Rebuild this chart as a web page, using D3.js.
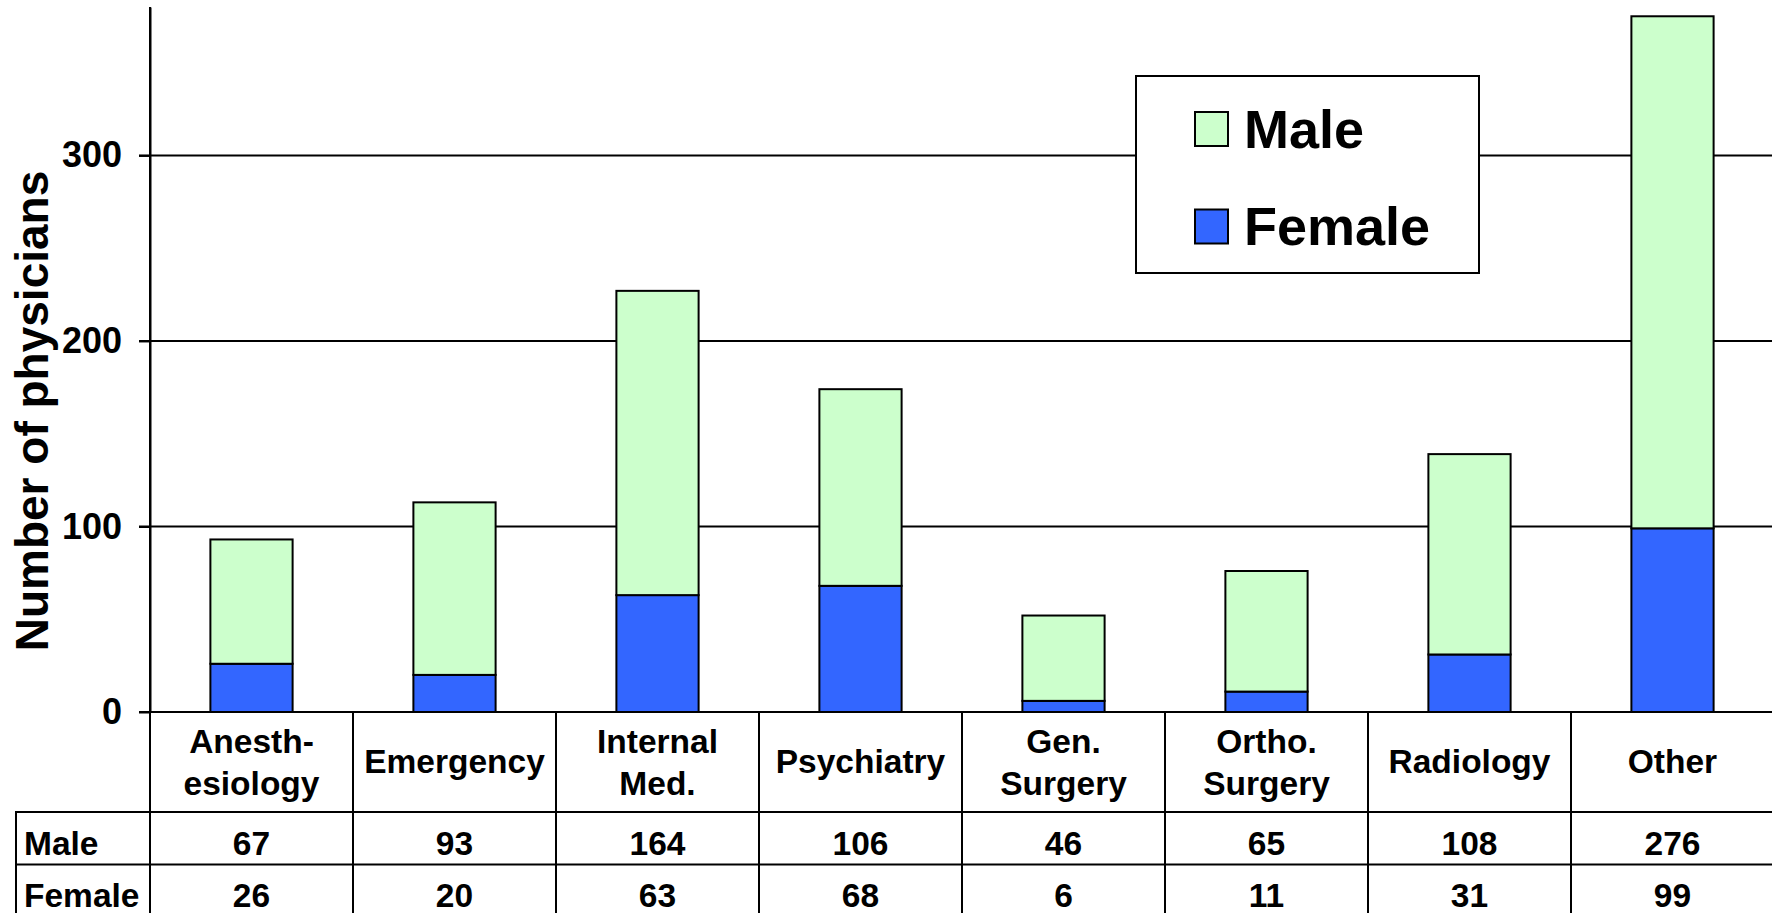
<!DOCTYPE html>
<html><head><meta charset="utf-8">
<script src="https://cdn.jsdelivr.net/npm/d3@7"></script>
<style>
body{margin:0;background:#fff;}
svg{display:block;font-family:"Liberation Sans",Arial,Helvetica,sans-serif;font-weight:bold;}
</style>
</head><body>
<svg id="c" width="1772" height="913"></svg>
<script>
// ---- data ----
const categories = ["Anesth-\nesiology","Emergency","Internal\nMed.","Psychiatry","Gen.\nSurgery","Ortho.\nSurgery","Radiology","Other"];
const seriesNames = ["Male","Female"];
const maleValues = [67,93,164,106,46,65,108,276];
const femaleValues = [26,20,63,68,6,11,31,99];
const yTicks = [0,100,200,300];
const yTitle = "Number of physicians";

const colors = {Male:"#CCFFCC", Female:"#3366FF"};

const W = 1772, H = 913;
const svg = d3.select("#c");

const plotLeft = 150, band = 203;
const x = d3.scaleBand().domain(categories).range([plotLeft, plotLeft + band*categories.length]).padding(0);
const y = d3.scaleLinear().domain([0,380]).range([712,7]);

const rows = categories.map((c,i)=>({cat:c, Male:maleValues[i], Female:femaleValues[i]}));
const stack = d3.stack().keys(["Female","Male"])(rows);

// gridlines
svg.append("g").selectAll("line").data(yTicks).join("line")
  .attr("x1", plotLeft-11).attr("x2", W)
  .attr("y1", d=>y(d)).attr("y2", d=>y(d))
  .attr("stroke","#000").attr("stroke-width",2);

// y axis
const yAxis = d3.axisLeft(y).tickValues(yTicks).tickSize(11).tickSizeOuter(0).tickPadding(17);
const ga = svg.append("g").attr("transform",`translate(${plotLeft},0)`).call(yAxis);
ga.select(".domain").attr("stroke","#000").attr("stroke-width",2);
ga.selectAll(".tick line").attr("stroke","#000").attr("stroke-width",2);
ga.selectAll(".tick text").attr("fill","#000").style("font-size","36px").style("font-weight","bold")
  .style("font-family",'"Liberation Sans",Arial,sans-serif');

// y title
svg.append("text").attr("transform","translate(48,411) rotate(-90)")
  .attr("text-anchor","middle").style("font-size","46px").text(yTitle);

// bars
const barW = band*0.405;
svg.append("g").selectAll("g").data(stack).join("g")
  .attr("fill", d=>colors[d.key])
  .selectAll("rect").data(d=>d).join("rect")
  .attr("x", d=>x(d.data.cat) + band/2 - barW/2)
  .attr("width", barW)
  .attr("y", d=>y(d[1]))
  .attr("height", d=>y(d[0]) - y(d[1]))
  .attr("stroke","#000").attr("stroke-width",2);

// legend
const lg = svg.append("g");
lg.append("rect").attr("x",1136).attr("y",76).attr("width",343).attr("height",197)
  .attr("fill","#fff").attr("stroke","#000").attr("stroke-width",2);
seriesNames.forEach((s,i)=>{
  lg.append("rect").attr("x",1195).attr("y",112 + i*97.5).attr("width",33).attr("height",34)
    .attr("fill",colors[s]).attr("stroke","#000").attr("stroke-width",2);
  lg.append("text").attr("x",1244).attr("y",148 + i*97).style("font-size","54px").text(s);
});

// data table
const tg = svg.append("g");
const headTop = 712, rowTop1 = 812, rowTop2 = 864.5;
const fs = "33.5px";
categories.forEach((c,i)=>{
  tg.append("line").attr("x1",x(c)).attr("x2",x(c)).attr("y1", i===0?7:headTop).attr("y2",H)
    .attr("stroke","#000").attr("stroke-width",2);
});
tg.append("line").attr("x1",plotLeft+band*categories.length).attr("x2",plotLeft+band*categories.length)
  .attr("y1",headTop).attr("y2",H).attr("stroke","#000").attr("stroke-width",2);
tg.append("line").attr("x1",16).attr("x2",16).attr("y1",rowTop1).attr("y2",H).attr("stroke","#000").attr("stroke-width",2);
[rowTop1,rowTop2].forEach(yy=>{
  tg.append("line").attr("x1",15).attr("x2",W).attr("y1",yy).attr("y2",yy).attr("stroke","#000").attr("stroke-width",2);
});
categories.forEach(c=>{
  const lines = c.split("\n");
  const cx = x(c) + band/2;
  const base = lines.length===1 ? [773] : [753,795];
  lines.forEach((l,j)=>{
    tg.append("text").attr("x",cx).attr("y",base[j]).attr("text-anchor","middle")
      .style("font-size",fs).text(l);
  });
});
const tableRows = [["Male",maleValues,855],["Female",femaleValues,907]];
tableRows.forEach(([name,vals,base])=>{
  tg.append("text").attr("x",24).attr("y",base).style("font-size",fs).text(name);
  vals.forEach((v,i)=>{
    tg.append("text").attr("x",x(categories[i])+band/2).attr("y",base).attr("text-anchor","middle")
      .style("font-size",fs).text(v);
  });
});
</script>
</body></html>
